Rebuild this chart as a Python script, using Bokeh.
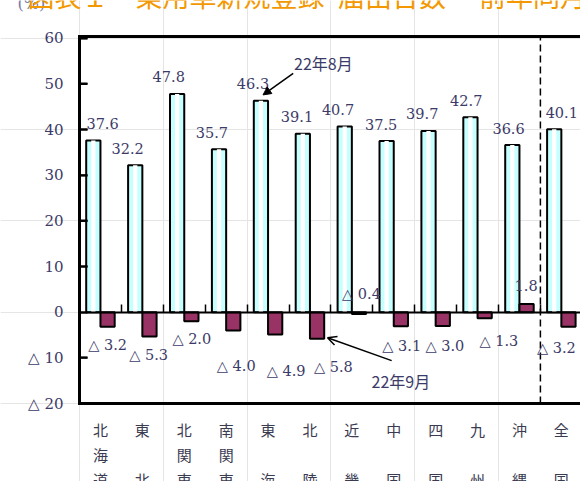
from bokeh.plotting import figure
from bokeh.models import (Range1d, FixedTicker, Arrow, NormalHead, OpenHead,
                          LinearAxis, ColumnDataSource)
from bokeh.core.properties import value
from bokeh.embed import file_html
from bokeh.resources import INLINE

# ---- data -------------------------------------------------------------
regions = ["北海道", "東北", "北関東", "南関東", "東海", "北陸",
           "近畿", "中国", "四国", "九州", "沖縄", "全国"]
aug_2010 = [37.6, 32.2, 47.8, 35.7, 46.3, 39.1, 40.7, 37.5, 39.7, 42.7, 36.6, 40.1]
sep_2010 = [-3.2, -5.3, -2.0, -4.0, -4.9, -5.8, -0.4, -3.1, -3.0, -1.3, 1.8, -3.2]
y_ticks = [-20, -10, 0, 10, 20, 30, 40, 50, 60]
y_tick_text = {-20: "△ 20", -10: "△ 10"}
title_text = "図表１　乗用車新規登録･届出台数　  前年同月比"

# ---- geometry -----------------------------------------------------------
W, H = 580, 481
ORIGIN_X, ORIGIN_Y = 79.0, 311.7    # pixel position of (0, 0)
PX_X, PX_Y = 41.9, 4.565            # pixels per category / per percent
Y_MIN, Y_TOP = -20.0, 60.4          # plot box limits
BAR_W = 0.34
TICK_PX = 8
BOX_PX = 3.0                        # thickness of the box lines


def x_at(px):
    return (px - ORIGIN_X) / PX_X


def y_at(py):
    return (ORIGIN_Y - py) / PX_Y


X_RIGHT = x_at(W + 6)
half_x = BOX_PX / 2 / PX_X
half_y = BOX_PX / 2 / PX_Y

# hand-placed label positions (category units / percent)
aug_label_dx = [0.22, -0.18, -0.20, -0.17, -0.19, -0.14, -0.16, -0.13, -0.15, -0.10, -0.09, 0.18]
sep_label_x = [0.67, 1.65, 2.68, 3.74, 4.93, 6.06, 6.73, 7.69, 8.72, 10.01, 10.66, 11.38]
sep_label_y = [-7.1, -9.3, -5.8, -11.7, -12.8, -12.1, 3.9, -7.3, -7.3, -6.2, 5.85, -7.95]

TXT = "#3c3a68"
NUM_FONT = "DejaVu Serif"
CJK_FONT = "Noto Sans CJK JP"

n = len(regions)
aug_x = [i + 0.5 - BAR_W / 2 for i in range(n)]
sep_x = [i + 0.5 + BAR_W / 2 for i in range(n)]


def fmt(v):
    return f"△ {abs(v):.1f}" if v < 0 else f"{v:.1f}"


p = figure(width=W, height=H, x_range=Range1d(x_at(0), x_at(W)),
           y_range=Range1d(y_at(H), y_at(0)),
           output_backend="svg", toolbar_location=None,
           x_axis_location=None, y_axis_location=None)
p.min_border = 0
p.min_border_left = p.min_border_right = p.min_border_top = p.min_border_bottom = 0
p.outline_line_color = None
p.background_fill_color = "white"
p.border_fill_color = "white"

# bars: August (light cyan with a pale centre) and September (maroon)
aug_src = ColumnDataSource(dict(x=aug_x, top=aug_2010))
sep_src = ColumnDataSource(dict(x=sep_x, top=sep_2010))
p.vbar(x="x", top="top", bottom=0, width=BAR_W, source=aug_src,
       fill_color="#c6ffff", line_color="black", line_width=2)
p.vbar(x="x", top="top", bottom=0, width=BAR_W * 0.3, source=aug_src,
       fill_color="white", line_color=None)
p.vbar(x="x", top="top", bottom=0, width=BAR_W, source=sep_src,
       fill_color="#993366", line_color="black", line_width=2)

# dashed separator before the national total
p.segment(x0=[n - 1.0], y0=[Y_MIN], x1=[n - 1.0], y1=[Y_TOP],
          line_color="black", line_width=1.5, line_dash="7 4")

# the box: an outlined rectangle whose right side runs past the edge
p.rect(x=[X_RIGHT / 2], y=[(Y_MIN + Y_TOP) / 2], width=[X_RIGHT], height=[Y_TOP - Y_MIN],
       fill_color=None, line_color="black", line_width=BOX_PX)
p.vbar(x=[0.0], width=2 * half_x, bottom=[Y_MIN - half_y], top=[Y_TOP + half_y],
       fill_color="black", line_color=None)
p.hbar(y=[Y_TOP, Y_MIN], height=2 * half_y, left=[-half_x, -half_x],
       right=[X_RIGHT, X_RIGHT], fill_color="black", line_color=None)

# inward tick marks of the value axis
inner_ticks = [float(t) for t in y_ticks if Y_MIN < t < Y_TOP and t != 0]
p.hbar(y=inner_ticks, height=2 / PX_Y, left=[0.0] * len(inner_ticks),
       right=[TICK_PX / PX_X] * len(inner_ticks), fill_color="black", line_color=None)

# value labels
aug_lab = ColumnDataSource(dict(x=[aug_x[i] + aug_label_dx[i] for i in range(n)],
                                y=aug_2010, t=[fmt(v) for v in aug_2010]))
p.text(x="x", y="y", text="t", source=aug_lab, y_offset=-17,
       text_align="center", text_baseline="middle", text_font=value(NUM_FONT),
       text_font_size="14.5px", text_color=TXT)
sep_lab = ColumnDataSource(dict(x=sep_label_x, y=sep_label_y, t=[fmt(v) for v in sep_2010]))
p.text(x="x", y="y", text="t", source=sep_lab,
       text_align="center", text_baseline="middle", text_font=value(NUM_FONT),
       text_font_size="14.5px", text_color=TXT)

# series call-outs
p.text(x=[5.12], y=[54.6], text=["22年8月"], text_font=value(CJK_FONT),
       text_font_size="16px", text_color=TXT, text_baseline="middle")
p.add_layout(Arrow(end=NormalHead(size=8, fill_color="black", line_color="black"),
                   x_start=5.10, y_start=52.3, x_end=aug_x[4] + 0.05, y_end=aug_2010[4] + 1.3,
                   line_color="black", line_width=1.5))
p.text(x=[6.97], y=[-15.0], text=["22年9月"], text_font=value(CJK_FONT),
       text_font_size="16px", text_color=TXT, text_baseline="middle")
p.add_layout(Arrow(end=OpenHead(size=9, line_color="black", line_width=1.5),
                   x_start=7.45, y_start=-10.6, x_end=sep_x[5] + BAR_W / 2 + 0.08,
                   y_end=sep_2010[5] + 0.2, line_color="black", line_width=1.5))

# value axis labels on the left edge of the box
yax = LinearAxis(fixed_location=0, bounds=(Y_MIN, Y_TOP),
                 ticker=FixedTicker(ticks=y_ticks),
                 major_label_overrides=y_tick_text,
                 major_tick_in=0, major_tick_out=0, minor_tick_line_color=None,
                 axis_line_color=None,
                 major_label_standoff=16, major_label_text_font=NUM_FONT,
                 major_label_text_font_size="15px", major_label_text_color=TXT)
p.add_layout(yax, "left")

# left side of the box with ticks pointing into it
box_left = LinearAxis(fixed_location=0, bounds=(Y_MIN, Y_TOP),
                      ticker=FixedTicker(ticks=y_ticks),
                      major_tick_in=0, major_tick_out=TICK_PX, minor_tick_line_color=None,
                      axis_line_width=3, major_tick_line_width=2,
                      major_label_text_color=None)
p.add_layout(box_left, "right")

# top and bottom sides of the box
for place, loc in (("above", Y_TOP), ("below", Y_MIN)):
    p.add_layout(LinearAxis(fixed_location=loc, bounds=(0, X_RIGHT),
                            ticker=FixedTicker(ticks=[0.5]),
                            major_tick_in=0, major_tick_out=0, minor_tick_line_color=None,
                            axis_line_width=3, major_label_text_color=None), place)

# zero line with small category separators pointing up
zero_ax = LinearAxis(fixed_location=0, bounds=(0, X_RIGHT),
                     ticker=FixedTicker(ticks=list(range(1, n))),
                     major_tick_in=TICK_PX, major_tick_out=0, minor_tick_line_color=None,
                     axis_line_width=2, major_tick_line_width=1.5,
                     major_label_text_color=None)
p.add_layout(zero_ax, "below")

# region names, written top to bottom
name_x, name_y, name_t = [], [], []
for i, name in enumerate(regions):
    rows = [name[0], "", name[1]] if len(name) == 2 else list(name)
    for r, ch in enumerate(rows):
        if ch:
            name_x.append(i + 0.5)
            name_y.append(y_at(429 + 25 * r))
            name_t.append(ch)
p.text(x=name_x, y=name_y, text=name_t, text_align="center", text_baseline="middle",
       text_font=value(CJK_FONT), text_font_size="15px", text_color="#3a3a50")

# unit and heading along the top edge
p.text(x=[x_at(17)], y=[y_at(3)], text=["(%)"], text_font=value(NUM_FONT),
       text_font_size="16px", text_color="#7a7aa6", text_baseline="middle")
p.text(x=[x_at(27)], y=[y_at(-5)], text=[title_text], text_font=value(CJK_FONT),
       text_font_size="27px", text_color="#f39800", text_baseline="middle")

open("out.html", "w").write(file_html(p, INLINE))
